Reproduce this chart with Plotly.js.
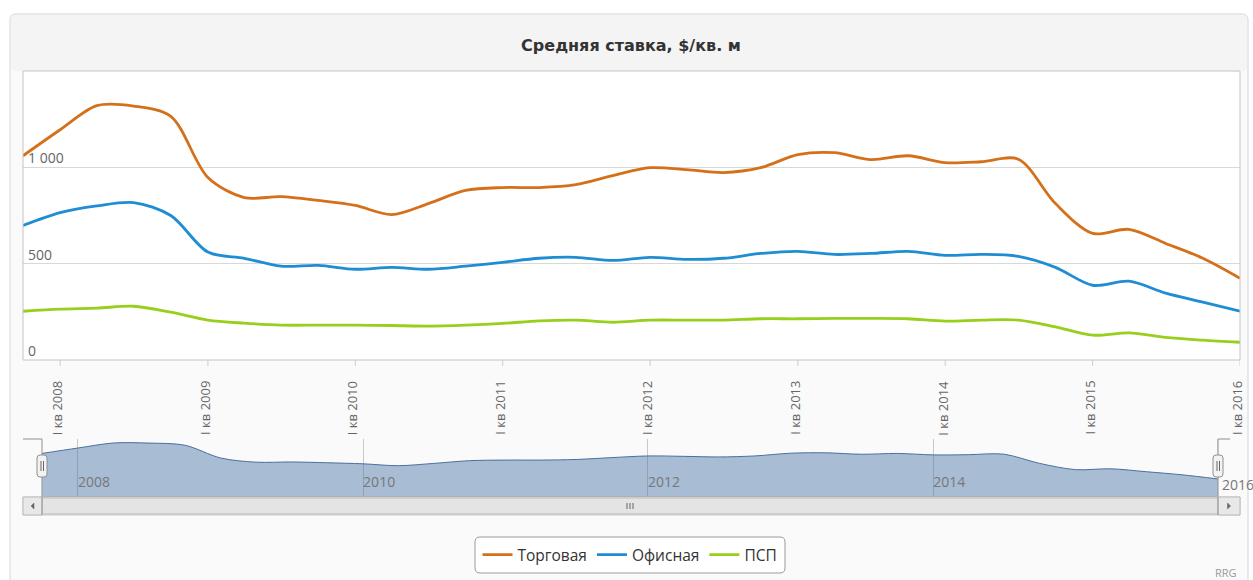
<!DOCTYPE html>
<html>
<head>
<meta charset="utf-8">
<script src="https://cdn.plot.ly/plotly-3.0.1.min.js"></script>
<style>
html,body{margin:0;padding:0;background:#fff;}
#chart{width:1253px;height:580px;}
</style>
</head>
<body>
<div id="chart"></div>
<script>
// ---- data ----
const quarters = [
  '2007-10-01',
  '2008-01-01','2008-04-01','2008-07-01','2008-10-01',
  '2009-01-01','2009-04-01','2009-07-01','2009-10-01',
  '2010-01-01','2010-04-01','2010-07-01','2010-10-01',
  '2011-01-01','2011-04-01','2011-07-01','2011-10-01',
  '2012-01-01','2012-04-01','2012-07-01','2012-10-01',
  '2013-01-01','2013-04-01','2013-07-01','2013-10-01',
  '2014-01-01','2014-04-01','2014-07-01','2014-10-01',
  '2015-01-01','2015-04-01','2015-07-01','2015-10-01',
  '2016-01-01'
];
const torgovaya = [1060,1195,1320,1318,1265,947,843,848,828,802,755,812,880,895,895,910,957,998,988,973,998,1066,1076,1040,1060,1024,1029,1042,812,657,678,605,528,424];
const ofisnaya  = [698,765,800,817,750,560,528,487,491,471,481,471,487,507,528,533,517,533,522,528,553,564,548,553,564,543,548,538,481,388,409,347,300,253];
const psp       = [253,264,269,279,248,207,191,181,181,181,179,176,181,190,203,207,196,207,207,207,214,214,216,216,214,202,207,207,172,129,141,117,103,92];

const seriesNames = ['Торговая','Офисная','ПСП'];
const yTickVals = [0,500,1000];
const yTickText = ['0','500','1 000'];
const xTickVals = ['2008-01-01','2009-01-01','2010-01-01','2011-01-01','2012-01-01','2013-01-01','2014-01-01','2015-01-01','2016-01-01'];
const xTickText = ['I кв 2008','I кв 2009','I кв 2010','I кв 2011','I кв 2012','I кв 2013','I кв 2014','I кв 2015','I кв 2016'];
const navTickVals = ['2008-01-01','2010-01-01','2012-01-01','2014-01-01'];
const navTickText = ['2008','2010','2012','2014'];
const navLastTick = {val: '2016-01-01', text: '2016'};
const titleText = 'Средняя ставка, $/кв. м';
const creditText = 'RRG';

// ---- layout helpers (pixel -> paper) ----
const W = 1253, H = 580;
const px = x => x / W;
const py = y => (H - y) / H;
function rrect(x0, y0, x1, y1, r) {
  const rx = r / W, ry = r / H;
  const X0 = px(x0), X1 = px(x1), Y0 = py(y0), Y1 = py(y1);
  return `M ${X0+rx},${Y0} L ${X1-rx},${Y0} Q ${X1},${Y0} ${X1},${Y0-ry} L ${X1},${Y1+ry} Q ${X1},${Y1} ${X1-rx},${Y1} L ${X0+rx},${Y1} Q ${X0},${Y1} ${X0},${Y1+ry} L ${X0},${Y0-ry} Q ${X0},${Y0} ${X0+rx},${Y0} Z`;
}
function rect(x0, y0, x1, y1, fill, line, lw, layer) {
  return {type:'rect', xref:'paper', yref:'paper', x0:px(x0), x1:px(x1), y0:py(y1), y1:py(y0),
    fillcolor: fill, line:{color: line || 'rgba(0,0,0,0)', width: lw === undefined ? 1 : lw}, layer: layer || 'below'};
}
function path(d, fill, line, lw, layer) {
  return {type:'path', xref:'paper', yref:'paper', path:d, fillcolor: fill, line:{color: line || 'rgba(0,0,0,0)', width: lw === undefined ? 1 : lw}, layer: layer || 'below'};
}
function seg(x0, y0, x1, y1, color, w, layer) {
  return {type:'line', xref:'paper', yref:'paper', x0:px(x0), y0:py(y0), x1:px(x1), y1:py(y1), line:{color:color, width:w||1}, layer: layer || 'above'};
}
function tri(cx, cy, dir) {
  const s = 3;
  let d;
  if (dir < 0) d = `M ${px(cx-s/2)},${py(cy)} L ${px(cx+s/2)},${py(cy-s)} L ${px(cx+s/2)},${py(cy+s)} Z`;
  else d = `M ${px(cx+s/2)},${py(cy)} L ${px(cx-s/2)},${py(cy-s)} L ${px(cx-s/2)},${py(cy+s)} Z`;
  return path(d, '#666', '#666', 0.5, 'above');
}

const colors = ['#D4701A', '#1E8DD3', '#97CF1C'];
const FONT = '"Open Sans", "Noto Sans", sans-serif';

const traces = [
  {x: quarters, y: torgovaya, name: seriesNames[0], type:'scatter', mode:'lines', line:{color:colors[0], width:2.8, shape:'spline', smoothing:0.9}, xaxis:'x', yaxis:'y'},
  {x: quarters, y: ofisnaya,  name: seriesNames[1], type:'scatter', mode:'lines', line:{color:colors[1], width:2.8, shape:'spline', smoothing:0.9}, xaxis:'x', yaxis:'y'},
  {x: quarters, y: psp,       name: seriesNames[2], type:'scatter', mode:'lines', line:{color:colors[2], width:2.8, shape:'spline', smoothing:0.9}, xaxis:'x', yaxis:'y'},
  {x: quarters, y: torgovaya, name: 'nav', type:'scatter', mode:'lines', fill:'tozeroy', fillcolor:'rgba(69,114,167,0.45)',
   line:{color:'#4A6FA0', width:1, shape:'spline', smoothing:0.9}, xaxis:'x2', yaxis:'y2', showlegend:false, hoverinfo:'skip'}
];

// short tick marks under the main x axis, at the tick values
const tickMarks = xTickVals.map(v => ({type:'line', xref:'x', yref:'paper', x0:v, x1:v, y0:py(360), y1:py(366),
  line:{color:'#C0D0E0', width:1}, layer:'above'}));
// rotated x tick labels, placed at the tick values through the x axis
const xTickLabels = xTickVals.map((v, i) => ({text: xTickText[i], xref:'x', yref:'paper', x: v, y: py(380),
  xanchor:'center', yanchor:'top', textangle:-90, showarrow:false, borderpad:0, xshift:-3,
  font:{family: FONT, size:13, color:'#666'}}));

const shapes = [
  // outer container
  path(rrect(10, 14, 1248, 600, 6), '#fafafa', '#d6d6d6', 1, 'below'),
  // title band
  path(rrect(11, 15, 1247, 71, 5), '#f4f4f4', 'rgba(0,0,0,0)', 0, 'below'),
  // main plot background
  rect(23, 71, 1240, 360, '#ffffff', null, 0, 'below'),
  // scrollbar track
  rect(23, 497, 1240, 515, '#eeeeee', '#cccccc', 1, 'above'),
  // thumb
  rect(42, 498, 1218, 514, '#e4e4e4', '#bbbbbb', 1, 'above'),
  // grip
  seg(627, 503, 627, 509, '#666', 1), seg(630, 503, 630, 509, '#666', 1), seg(633, 503, 633, 509, '#666', 1),
  // buttons
  rect(23, 497, 42, 515, '#e8e8e8', '#bbbbbb', 1, 'above'),
  rect(1218, 497, 1240, 515, '#e8e8e8', '#bbbbbb', 1, 'above'),
  tri(32.5, 506, -1), tri(1229, 506, 1),
  // plot border
  rect(23, 71, 1240, 360, 'rgba(0,0,0,0)', '#c4c4c4', 1, 'above'),
  // navigator outline
  seg(23, 439, 42, 439, '#a0a0a0', 1.2), seg(42, 439, 42, 515, '#a0a0a0', 1.2),
  seg(1218, 439, 1218, 515, '#a0a0a0', 1.2), seg(1218, 439, 1230, 439, '#a0a0a0', 1.2),
  seg(42, 496.5, 1218, 496.5, '#b0b0b0', 1),
  // last navigator grid line
  {type:'line', xref:'x2', yref:'paper', x0: navLastTick.val, x1: navLastTick.val, y0: py(496), y1: py(439), line:{color:'#c8c8c8', width:1}, layer:'below'},
  // handles
  path(rrect(37, 455, 47, 477, 3), '#f2f2f2', '#909090', 1, 'above'),
  seg(41, 461, 41, 471, '#666', 1), seg(43.5, 461, 43.5, 471, '#666', 1),
  path(rrect(1213, 455, 1223, 477, 3), '#f2f2f2', '#909090', 1, 'above'),
  seg(1217, 461, 1217, 471, '#666', 1), seg(1219.5, 461, 1219.5, 471, '#666', 1),
  // legend box
  path(rrect(475, 537, 785, 573, 5), '#ffffff', '#9a9a9a', 1, 'above')
].concat(tickMarks);

const layout = {
  width: W, height: H,
  margin: {l:0, r:0, t:0, b:0, pad:0},
  paper_bgcolor: '#ffffff',
  plot_bgcolor: 'rgba(0,0,0,0)',
  font: {family: FONT, color:'#333'},
  showlegend: true,
  title: {text: '<b>' + titleText + '</b>', font:{family: '"DejaVu Sans", sans-serif', size:16, color:'#333333'},
          x: px(631), xref:'paper', xanchor:'center', y: py(45), yref:'paper', yanchor:'middle'},
  xaxis: {
    domain: [px(23), px(1240)], range: [quarters[0], quarters[quarters.length-1]],
    type:'date', tickmode:'array', tickvals: xTickVals, ticktext: xTickText,
    showticklabels:false, ticks:'',
    showgrid:false, zeroline:false, showline:false,
    anchor:'y', fixedrange:true
  },
  yaxis: {
    domain: [py(360), py(71)], range: [0, 1500], tickmode:'array', tickvals: yTickVals, ticktext: yTickText,
    ticklabelposition:'inside', ticklabelshift: -9, ticklabelstandoff: 2,
    tickfont:{family: FONT, size:14, color:'#666'}, showgrid:true, gridcolor:'#d8d8d8', gridwidth:1,
    zeroline:false, showline:false, ticks:'', anchor:'x', fixedrange:true
  },
  xaxis2: {
    domain: [px(42), px(1218)], range: [quarters[0], quarters[quarters.length-1]],
    type:'date', tickmode:'array', tickvals: navTickVals, ticktext: navTickText,
    ticklabelposition:'inside right', ticks:'', showgrid:true, gridcolor:'#c8c8c8', gridwidth:1,
    tickfont:{family: FONT, size:14, color:'#777'}, zeroline:false, showline:false,
    anchor:'y2', fixedrange:true
  },
  yaxis2: {
    domain: [py(496), py(439)], range: [0, 1420], showgrid:false, showticklabels:false, zeroline:false,
    showline:false, ticks:'', anchor:'x2', fixedrange:true
  },
  legend: {orientation:'h', x: px(630), xanchor:'center', y: py(555), yanchor:'middle',
           bgcolor:'rgba(0,0,0,0)', borderwidth:0, font:{family: FONT, size:15.5, color:'#333'},
           itemwidth: 30, traceorder:'normal'},
  shapes: shapes,
  annotations: [
    {text: creditText, xref:'paper', yref:'paper', x: px(1239), y: py(572), xanchor:'right', yanchor:'middle',
     showarrow:false, font:{family: FONT, size:11, color:'#999'}},
    {text: navLastTick.text, xref:'x2', yref:'paper', x: navLastTick.val, y: py(484), xanchor:'left', yanchor:'middle',
     xshift: 2, showarrow:false, font:{family: FONT, size:14, color:'#777'}}
  ].concat(xTickLabels)
};

Plotly.newPlot('chart', traces, layout, {displayModeBar:false, staticPlot:true});
</script>
</body>
</html>
